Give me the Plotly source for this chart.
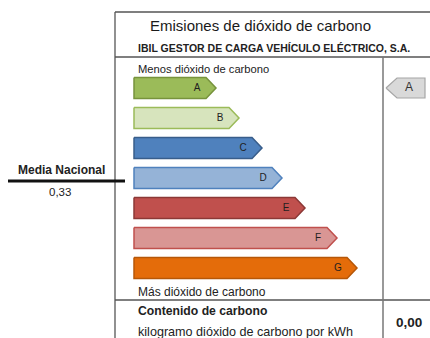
import plotly.graph_objects as go

# energy-label style classes and their bar lengths (right tip, in label units)
classes = ["A", "B", "C", "D", "E", "F", "G"]
bar_end = [216, 239, 262, 282, 305, 337, 357]
company_class = "A"
media_nacional = "0,33"
carbon_content = "0,00"

fills = ["#9bbb59", "#d7e4bd", "#4f81bd", "#95b3d7", "#c0504d", "#d99694", "#e46c0a"]
borders = ["#77933c", "#9bbb59", "#385d8a", "#4f81bd", "#8c3836", "#c0504d", "#b65708"]

FONT = "Liberation Sans"
bar_left = 134
row0, row_gap, half_h, tip = 88, 30, 10.5, 10

fig = go.Figure()

# -----------------------
# Class bars
# -----------------------
for i, (cls, end) in enumerate(zip(classes, bar_end)):
    yc = row0 + i * row_gap
    xs = [bar_left, end - tip, end, end - tip, bar_left, bar_left]
    ys = [yc - half_h, yc - half_h, yc, yc + half_h, yc + half_h, yc - half_h]
    fig.add_trace(go.Scatter(
        x=xs, y=ys, mode="lines", fill="toself",
        fillcolor=fills[i], line=dict(color=borders[i], width=1.5),
        hoverinfo="skip", showlegend=False
    ))
    fig.add_trace(go.Scatter(
        x=[end - 19], y=[yc], mode="text", text=[cls],
        textfont=dict(family=FONT, size=10, color="#1f1f1f"),
        hoverinfo="skip", showlegend=False
    ))

# company marker pointing left, in the row of its class
ci = classes.index(company_class)
yc = row0 + ci * row_gap
mx0, mx1 = 386, 425
fig.add_trace(go.Scatter(
    x=[mx0, mx0 + 11, mx1, mx1, mx0 + 11, mx0],
    y=[yc, yc - 10, yc - 10, yc + 10, yc + 10, yc],
    mode="lines", fill="toself", fillcolor="#d9d9d9",
    line=dict(color="#a6a6a6", width=1.2), hoverinfo="skip", showlegend=False
))
fig.add_trace(go.Scatter(
    x=[409], y=[yc], mode="text", text=[company_class],
    textfont=dict(family=FONT, size=12, color="#333333"),
    hoverinfo="skip", showlegend=False
))

# -----------------------
# Frame lines
# -----------------------
line = dict(color="#555555", width=1.3)
shapes = [
    dict(type="line", x0=115, x1=430, y0=12, y1=12, line=line),
    dict(type="line", x0=115, x1=115, y0=12, y1=338, line=line),
    dict(type="line", x0=115, x1=430, y0=57, y1=57, line=line),
    dict(type="line", x0=115, x1=430, y0=300, y1=300, line=line),
    dict(type="line", x0=383, x1=383, y0=57, y1=338, line=dict(color="#777777", width=1.5)),
    dict(type="line", x0=8, x1=125, y0=181, y1=181, line=dict(color="#111111", width=3)),
]
for s in shapes:
    s.update(xref="x", yref="y", layer="below")

# -----------------------
# Texts
# -----------------------
def txt(x, y, s, size, anchor="left", bold=False, color="#222222"):
    return dict(x=x, y=y, xref="x", yref="y", text=f"<b>{s}</b>" if bold else s,
                showarrow=False, xanchor=anchor, yanchor="middle",
                font=dict(family=FONT, size=size, color=color))

annotations = [
    txt(260, 25, "Emisiones de dióxido de carbono", 15, "center", color="#1a1a1a"),
    txt(274, 48, "IBIL GESTOR DE CARGA VEHÍCULO ELÉCTRICO, S.A.", 10.5, "center", True),
    txt(136, 69, "Menos dióxido de carbono", 11.2),
    txt(136, 292, "Más dióxido de carbono", 12),
    txt(136, 311, "Contenido de carbono", 12.2, bold=True),
    txt(136, 332, "kilogramo dióxido de carbono por kWh", 12.6),
    txt(409, 322, carbon_content, 13.5, "center", True),
    txt(61, 170, "Media Nacional", 12, "center", True),
    txt(60, 192, media_nacional, 11.5, "center"),
]

fig.update_layout(
    width=430, height=338,
    margin=dict(l=0, r=0, t=0, b=0),
    paper_bgcolor="white", plot_bgcolor="white",
    xaxis=dict(range=[0, 430], visible=False, fixedrange=True),
    yaxis=dict(range=[338, 0], visible=False, fixedrange=True),
    shapes=shapes, annotations=annotations, showlegend=False
)

# drop the page's default body margin so the figure sits at the window corner
fig.write_html(
    "out.html",
    config={"displayModeBar": False, "staticPlot": True},
    post_script="document.body.style.margin='0';document.documentElement.style.overflow='hidden';"
)
